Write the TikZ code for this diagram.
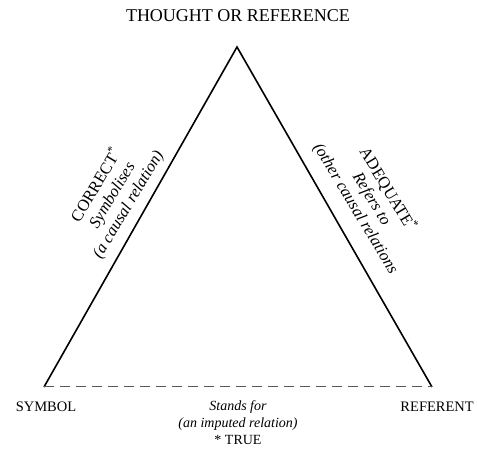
\documentclass[tikz,border=0pt]{standalone}
\usepackage{fontspec}
\setmainfont{Liberation Serif}

\begin{document}
\begin{tikzpicture}[
        x=1pt, y=1pt,
        esquina/.style={font=\fontsize{14.5}{17}\selectfont, inner sep=0pt},
        rotulo/.style={align=center, inner sep=0pt, font=\fontsize{16.5}{18.5}\selectfont},
        lado/.style={line width=1.6pt, line join=miter},
        imputada/.style={line width=1pt, draw=black!65, dash pattern=on 10pt off 6pt}
    ]
        \useasboundingbox (0,0) rectangle (477,460);

        % Vertices
        \coordinate (pens) at (237,413);
        \coordinate (simb) at (44,73);
        \coordinate (refe) at (432,73);

        % Lados
        \draw[lado] (simb) -- (pens) -- (refe);
        \draw[imputada] (simb) -- (refe);

        % Rotulos de los vertices
        \node[esquina, font=\fontsize{18}{20}\selectfont] (tituloP) at (238,444) {THOUGHT OR REFERENCE};
        \node[esquina, anchor=base] (tituloS) at (46,48) {SYMBOL};
        \node[esquina, anchor=base east] (tituloR) at (474,48) {REFERENT};

        % Relaciones
        \node[rotulo, rotate=59] (correcto) at (112,265)
            {CORRECT\textsuperscript{*}\\ \textit{Symbolises}\\ \textit{(a causal relation)}};
        \node[rotulo, rotate=-59] (adecuado) at (372,261)
            {ADEQUATE\textsuperscript{*}\\ \textit{Refers to}\\ \textit{(other causal relations}};
        \node[rotulo, font=\fontsize{14}{17}\selectfont, anchor=north] (verdad) at (238,60)
            {\textit{Stands for}\\ \textit{(an imputed relation)}\\ * TRUE};
    \end{tikzpicture}
\end{document}
